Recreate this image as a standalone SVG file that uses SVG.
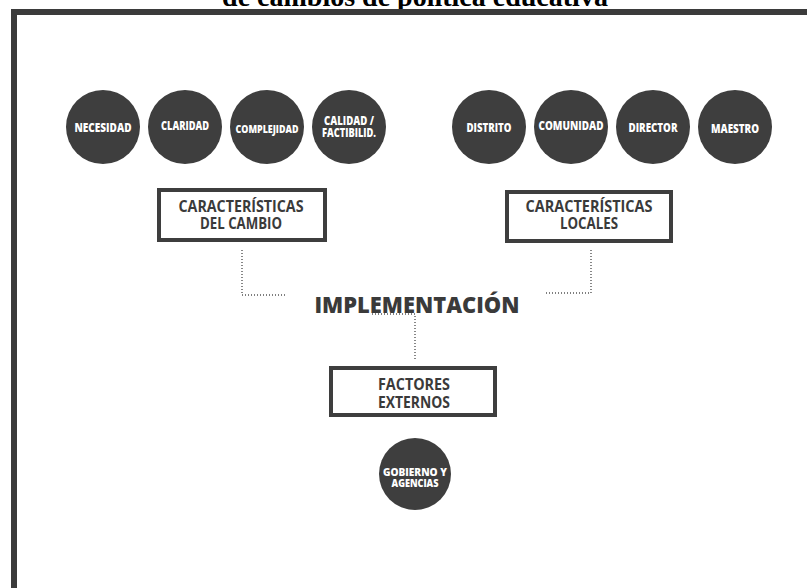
<svg xmlns="http://www.w3.org/2000/svg" width="807" height="588" viewBox="0 0 807 588">
<style>
.title{font-family:"Liberation Serif","Times New Roman",serif;font-weight:bold;font-size:28px;fill:#000;text-anchor:middle}
.frame{fill:#fff;stroke:#3b3b3b;stroke-width:6}
.dot{fill:#3e3e3e}
.ct{font-family:"Open Sans","Liberation Sans",sans-serif;font-weight:800;font-size:11.5px;fill:#fff;text-anchor:middle}
.box{fill:#fff;stroke:#3e3e3e;stroke-width:4}
.bt{font-family:"Open Sans","Liberation Sans",sans-serif;font-weight:700;font-size:16px;fill:#3a3a3a;text-anchor:middle}
.main{font-family:"Open Sans","Liberation Sans",sans-serif;font-weight:800;font-size:23px;fill:#3a3a3a;text-anchor:middle}
.conn{fill:none;stroke:#555;stroke-width:1.4;stroke-dasharray:1 2}
</style>
<rect width="807" height="588" fill="#fff"/>
<text class="title" x="415" y="6">de cambios de política educativa</text>
<rect class="frame" x="14" y="12" width="900" height="700"/>

<g id="connectors">
<path class="conn" d="M242,250 V295 H285"/>
<path class="conn" d="M591,250 V293 H545"/>
<path class="conn" d="M372,314 H415 V360"/>
</g>

<g id="necesidad"><circle class="dot" cx="103" cy="127" r="37"/><text class="ct" x="103" y="132" textLength="57" lengthAdjust="spacingAndGlyphs">NECESIDAD</text></g>
<g id="claridad"><circle class="dot" cx="185" cy="127" r="37"/><text class="ct" x="185" y="130" textLength="48" lengthAdjust="spacingAndGlyphs">CLARIDAD</text></g>
<g id="complejidad"><circle class="dot" cx="267" cy="127" r="37"/><text class="ct" x="267" y="133" style="font-size:10px" textLength="63" lengthAdjust="spacingAndGlyphs">COMPLEJIDAD</text></g>
<g id="calidad"><circle class="dot" cx="349" cy="127" r="37"/><text class="ct" x="349" y="125" textLength="50" lengthAdjust="spacingAndGlyphs">CALIDAD /</text><text class="ct" x="349" y="137" textLength="54" lengthAdjust="spacingAndGlyphs">FACTIBILID.</text></g>

<g id="distrito"><circle class="dot" cx="489" cy="127" r="37"/><text class="ct" x="489" y="132" textLength="45" lengthAdjust="spacingAndGlyphs">DISTRITO</text></g>
<g id="comunidad"><circle class="dot" cx="571" cy="127" r="37"/><text class="ct" x="571" y="130" textLength="65" lengthAdjust="spacingAndGlyphs">COMUNIDAD</text></g>
<g id="director"><circle class="dot" cx="653" cy="127" r="37"/><text class="ct" x="653" y="132" textLength="49" lengthAdjust="spacingAndGlyphs">DIRECTOR</text></g>
<g id="maestro"><circle class="dot" cx="735" cy="127" r="37"/><text class="ct" x="735" y="133" textLength="48" lengthAdjust="spacingAndGlyphs">MAESTRO</text></g>

<g id="caracteristicas-cambio"><rect class="box" x="159" y="190" width="166" height="50"/><text class="bt" x="241" y="212" textLength="125" lengthAdjust="spacingAndGlyphs">CARACTERÍSTICAS</text><text class="bt" x="241" y="229" textLength="82" lengthAdjust="spacingAndGlyphs">DEL CAMBIO</text></g>
<g id="caracteristicas-locales"><rect class="box" x="507" y="192" width="164" height="49"/><text class="bt" x="589" y="212" textLength="127" lengthAdjust="spacingAndGlyphs">CARACTERÍSTICAS</text><text class="bt" x="589" y="229" textLength="58" lengthAdjust="spacingAndGlyphs">LOCALES</text></g>

<g id="implementacion"><text class="main" x="417" y="313" textLength="205" lengthAdjust="spacingAndGlyphs">IMPLEMENTACIÓN</text></g>

<g id="factores-externos"><rect class="box" x="331" y="368" width="164" height="47"/><text class="bt" x="414" y="390" textLength="72" lengthAdjust="spacingAndGlyphs">FACTORES</text><text class="bt" x="414" y="408" textLength="72" lengthAdjust="spacingAndGlyphs">EXTERNOS</text></g>

<g id="gobierno"><circle class="dot" cx="415" cy="474" r="36"/><text class="ct" x="415" y="476" style="font-size:10.5px" textLength="64" lengthAdjust="spacingAndGlyphs">GOBIERNO Y</text><text class="ct" x="415" y="487" style="font-size:10.5px" textLength="47" lengthAdjust="spacingAndGlyphs">AGENCIAS</text></g>
</svg>
